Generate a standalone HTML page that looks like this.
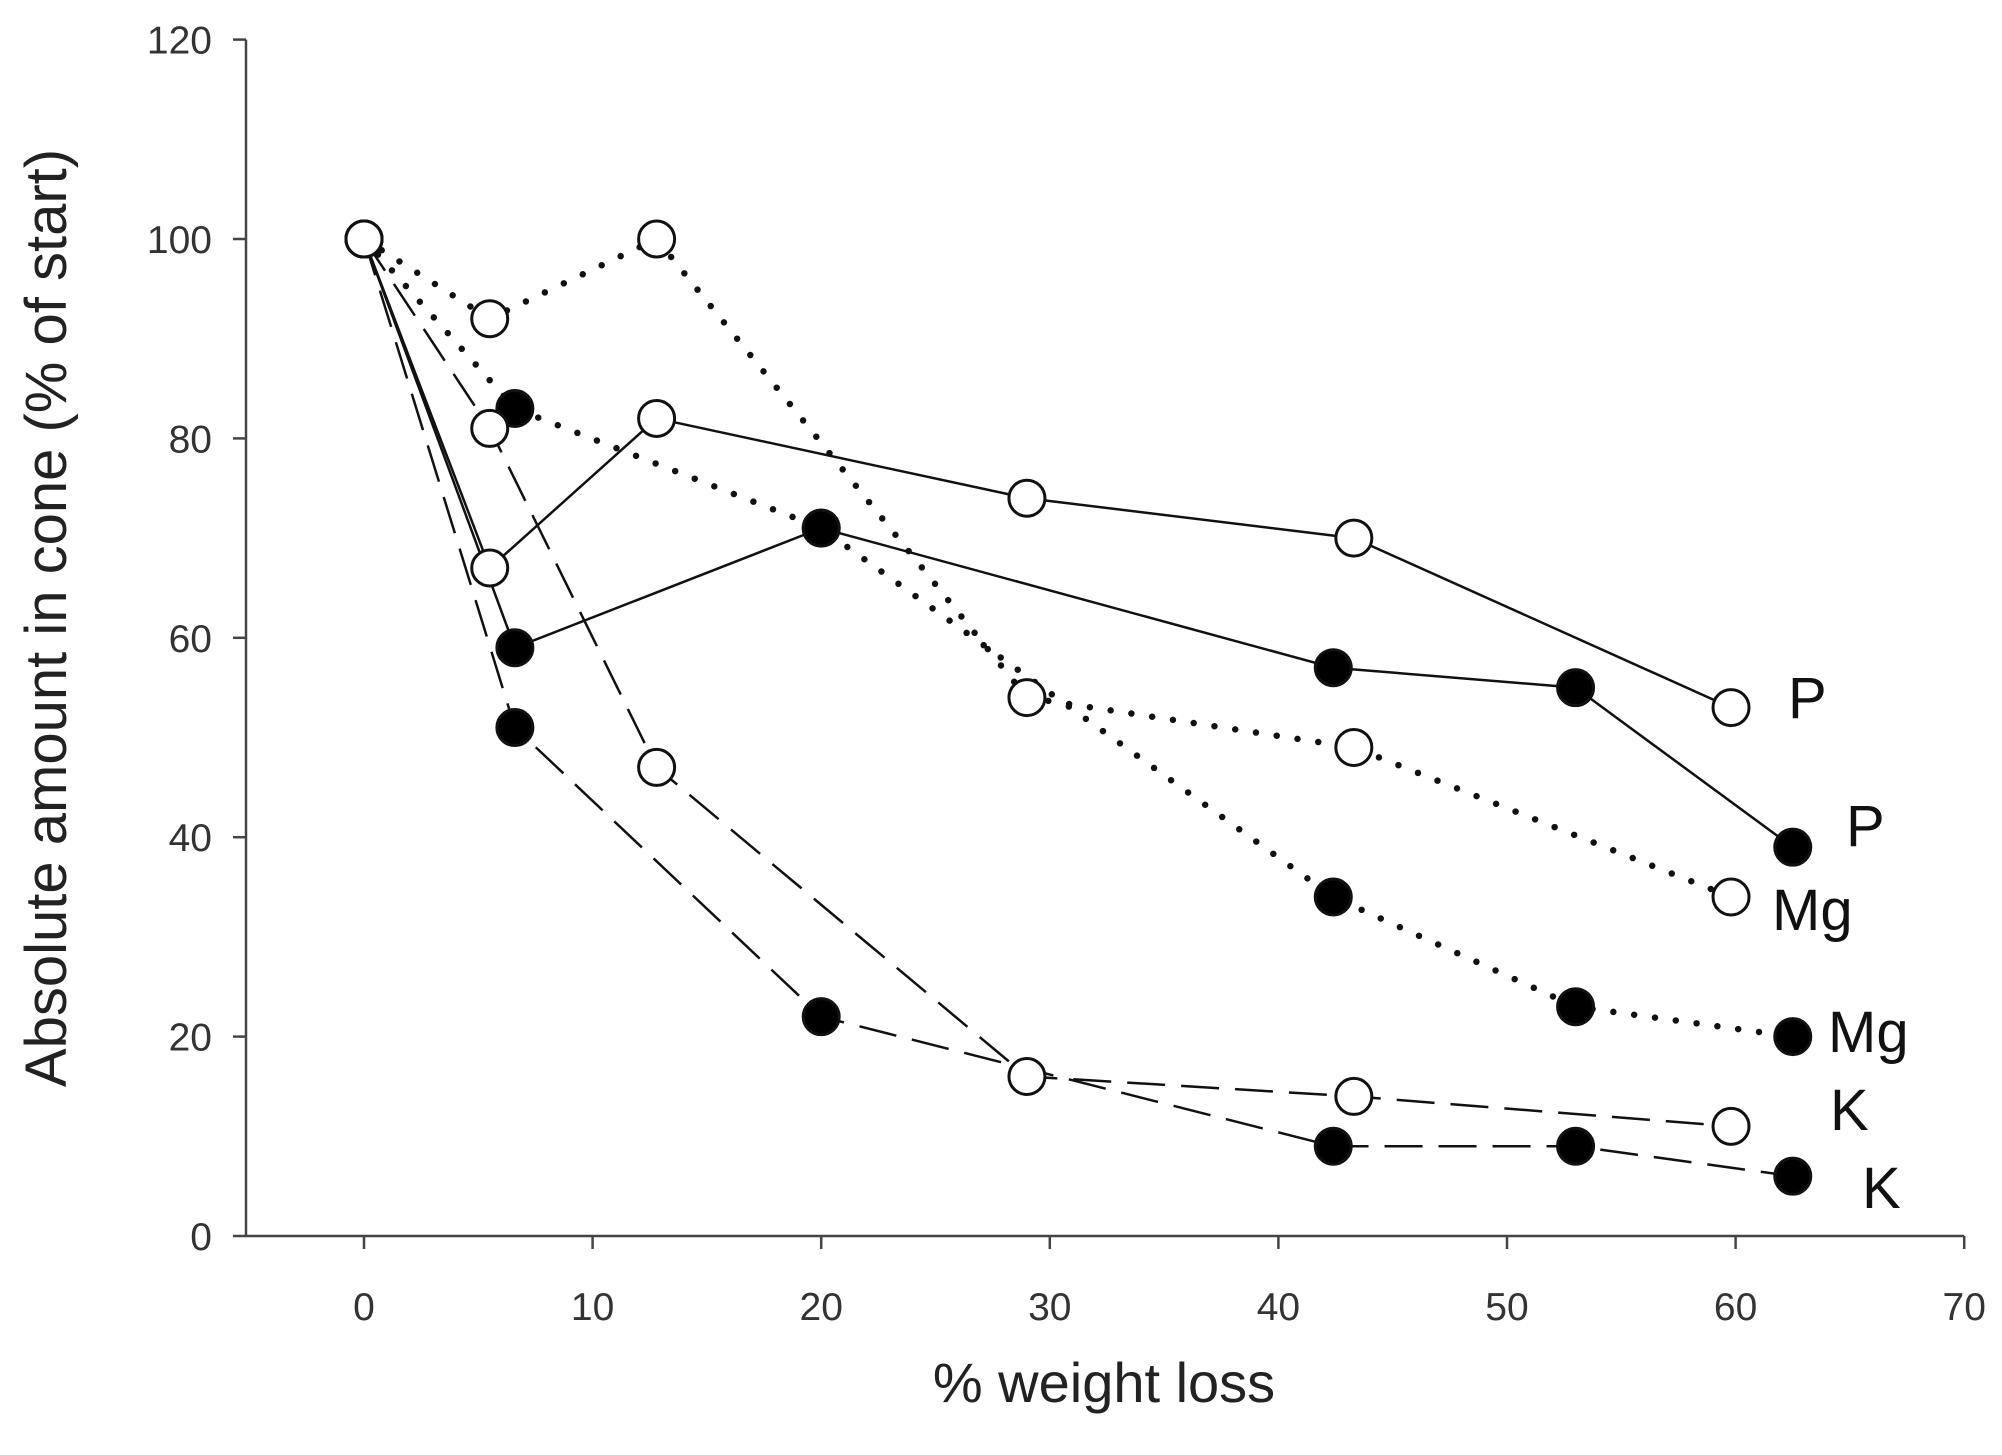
<!DOCTYPE html>
<html><head><meta charset="utf-8"><style>
html,body{margin:0;padding:0;background:#fff}
svg{display:block;font-family:"Liberation Sans",Arial,sans-serif}
</style></head><body>
<svg id="chart" width="2002" height="1455" viewBox="0 0 2002 1455">
<g id="axes"></g><g id="lines"></g><g id="marks"></g><g id="labels"></g>
<text x="1104" y="1402" font-size="56" fill="#222" text-anchor="middle">% weight loss</text>
<text transform="translate(66,618) rotate(-90)" font-size="58" fill="#222" text-anchor="middle">Absolute amount in cone (% of start)</text>
</svg>
<script>
const xTicks=[0,10,20,30,40,50,60,70];
const yTicks=[0,20,40,60,80,100,120];
const openX=[0,5.5,12.8,29,43.3,59.8];
const filledX=[0,6.6,20,42.4,53,62.5];
const openP=[100,67,82,74,70,53];
const filledP=[100,59,71,57,55,39];
const openMg=[100,92,100,54,49,34];
const filledMg=[100,83,71,34,23,20];
const openK=[100,81,47,16,14,11];
const filledK=[100,51,22,9,9,6];
const labelText=["P","P","Mg","Mg","K","K"];

const NS="http://www.w3.org/2000/svg";
const X=v=>364+v*22.86;
const Y=v=>1236-v*9.97;
function mk(tag,attrs,parent){const e=document.createElementNS(NS,tag);for(const k in attrs)e.setAttribute(k,attrs[k]);document.getElementById(parent).appendChild(e);return e;}
const ax="#444";
let e=mk("line",{x1:246,y1:Y(0),x2:246,y2:Y(120),stroke:ax,"stroke-width":2.5},"axes");


e=mk("line",{x1:246,y1:Y(0),x2:X(70),y2:Y(0),stroke:ax,"stroke-width":2.5},"axes");


yTicks.forEach(t=>{
 mk("line",{x1:233,y1:Y(t),x2:246,y2:Y(t),stroke:ax,"stroke-width":2.5},"axes");
 const tx=mk("text",{x:212,y:Y(t)+14,"font-size":39,fill:"#333","text-anchor":"end"},"axes");
 tx.textContent=t;
 
 
});
xTicks.forEach(t=>{
 mk("line",{x1:X(t),y1:Y(0),x2:X(t),y2:Y(0)+13,stroke:ax,"stroke-width":2.5},"axes");
 const tx=mk("text",{x:X(t),y:1320,"font-size":39,fill:"#333","text-anchor":"middle"},"axes");
 tx.textContent=t;
 
 
});
const series=[
 {name:"p-filled",xs:filledX,ys:filledP,fill:"#000",style:"solid"},
 {name:"mg-filled",xs:filledX,ys:filledMg,fill:"#000",style:"dot"},
 {name:"k-filled",xs:filledX,ys:filledK,fill:"#000",style:"dash"},
 {name:"p-open",xs:openX,ys:openP,fill:"#fff",style:"solid"},
 {name:"mg-open",xs:openX,ys:openMg,fill:"#fff",style:"dot"},
 {name:"k-open",xs:openX,ys:openK,fill:"#fff",style:"dash"}
];
series.forEach(s=>{
 const pts=s.xs.map((x,i)=>X(x)+","+Y(s.ys[i])).join(" ");
 const a={points:pts,fill:"none",stroke:"#111"};
 if(s.style==="solid"){a["stroke-width"]=2.5;}
 else if(s.style==="dot"){a["stroke-width"]=6.5;a["stroke-dasharray"]="0 21";a["stroke-linecap"]="round";}
 else {a["stroke-width"]=2.5;a["stroke-dasharray"]="38 16";}
 const l=mk("polyline",a,"lines");
 
 
});
series.forEach(s=>{
 s.xs.forEach((x,i)=>{
  const c=mk("circle",{cx:X(x),cy:Y(s.ys[i]),r:18,fill:s.fill,stroke:"#111","stroke-width":3},"marks");
  
  
 });
});
const labPos=[[1788,718],[1846,846],[1772,930],[1828,1052],[1830,1130],[1862,1208]];
labelText.forEach((t,i)=>{
 const tx=mk("text",{x:labPos[i][0],y:labPos[i][1],"font-size":58,fill:"#111"},"labels");
 tx.textContent=t;
 
 
});
</script>
</body></html>
